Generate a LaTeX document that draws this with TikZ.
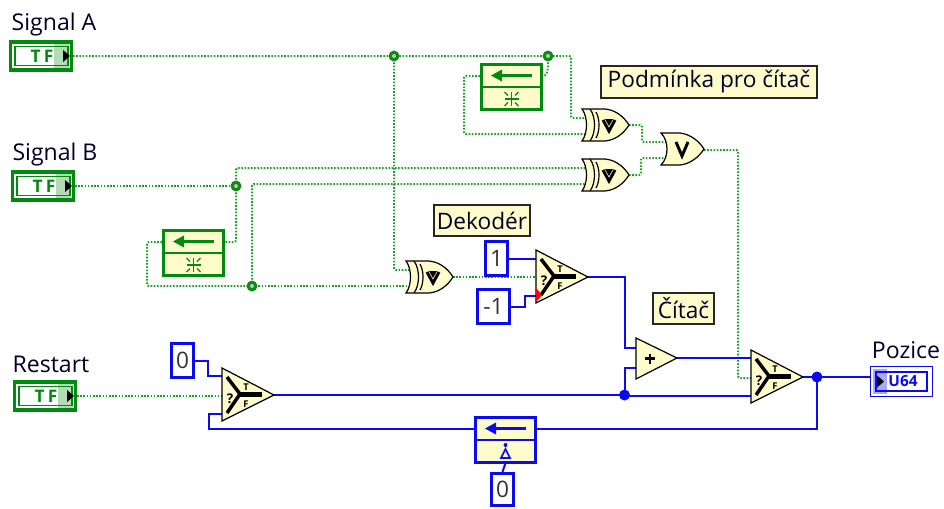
\documentclass[tikz,border=0pt]{standalone}
\usepackage{fontspec}
\setmainfont{Open Sans}
\pgfdeclarelayer{wires}
\pgfsetlayers{wires,main}
\definecolor{lvgreen}{HTML}{008A0E}
\definecolor{wiregreen}{HTML}{18A020}
\definecolor{lvblue}{HTML}{0A0AF5}
\definecolor{lvyellow}{HTML}{FFFBCB}
\tikzset{
 x=0.75pt,y=-0.75pt,
 bw/.style={draw=wiregreen,line width=1.5pt,dash pattern=on 1.2pt off 1.2pt,rounded corners=1.5pt},
 nw/.style={draw=lvblue,line width=1.5pt,line join=miter},
 gate/.style={draw=black,fill=lvyellow,line width=0.9pt,line join=miter},
 name label/.style={font=\fontsize{17.3}{20}\selectfont,text=black!85!blue,inner sep=0pt},
 comment/.style={draw=black!85,line width=1.3pt,fill=lvyellow,font=\fontsize{17}{20}\selectfont,text=black!85!blue,inner sep=0pt,minimum height=23.5pt},
 constant/.style={draw=lvblue,line width=2.3pt,fill=white,font=\fontsize{17}{20}\selectfont,text=black!80,inner sep=0pt,minimum width=#1,minimum height=25.5pt},
 constant/.default=16.5pt,
 bjunc/.pic={\fill[wiregreen!85!black] (0,0) circle[radius=5.5]; \fill[white!60!wiregreen] (0,0) circle[radius=2];},
 njunc/.pic={\fill[lvblue] (0,0) circle[radius=5.5];},
 xorgate/.pic={
  \draw[gate] (0,0) -- (23,0) .. controls (34,1) and (42,8) .. (47,16) .. controls (42,24) and (34,31) .. (23,32) -- (0,32) .. controls (6,24) and (6,8) .. (0,0) -- cycle;
  \draw[line width=0.9pt] (8,0) .. controls (14,8) and (14,24) .. (8,32);
  \draw[line width=0.9pt] (14,3) .. controls (18,10) and (18,22) .. (14,29);
  \draw[line width=2.2pt] (21,11) -- (27,22) -- (33,11);
  \fill (23,10) -- (31,10) -- (27,17) -- cycle;
  \coordinate (-a) at (6,9); \coordinate (-b) at (6,25); \coordinate (-o) at (47,16);
 },
 orgate/.pic={
  \draw[gate] (0,0) -- (19,0) .. controls (29,1) and (38,8) .. (43,16) .. controls (38,24) and (29,31) .. (19,32) -- (0,32) .. controls (8,24) and (8,8) .. (0,0) -- cycle;
  \draw[line width=2.2pt] (15,9) -- (21,23) -- (27,9);
  \coordinate (-a) at (5,9); \coordinate (-b) at (5,25); \coordinate (-o) at (43,17);
 },
 selgate/.pic={
  \draw[gate] (0,0) -- (52,27) -- (0,53) -- cycle;
  \draw[line width=2.6pt] (5,9) -- (18,26) -- (5,45);
  \draw[line width=3.2pt] (18,26.5) -- (40,26.5);
  \node[font=\bfseries\fontsize{10}{10}\selectfont,inner sep=0] at (8,31) {?};
  \node[font=\bfseries\fontsize{7}{7}\selectfont,inner sep=0] at (24,19) {T};
  \node[font=\bfseries\fontsize{7}{7}\selectfont,inner sep=0] at (24,36) {F};
  \coordinate (-t) at (1,8); \coordinate (-s) at (1,28); \coordinate (-f) at (1,46); \coordinate (-o) at (52,27);
 },
 addgate/.pic={
  \draw[gate] (0,0) -- (41,20) -- (0,41) -- cycle;
  \draw[line width=1.8pt] (9,20.5) -- (19,20.5) (14,15.5) -- (14,25.5);
  \coordinate (-a) at (1,10); \coordinate (-b) at (1,30); \coordinate (-o) at (41,20);
 },
 srfeedback/.pic={
  \draw[draw=#1,fill=lvyellow,line width=2.4pt] (1.5,1.5) rectangle (61.5,46.5);
  \draw[#1,line width=1.5pt] (1.5,24) -- (61.5,24);
  \draw[#1,line width=2.6pt] (17,12.5) -- (52,12.5);
  \fill[#1] (11,12.5) -- (22,6.5) -- (22,18.5) -- cycle;
  \coordinate (-l) at (0,13); \coordinate (-r) at (63,13); \coordinate (-bot) at (31.5,47);
 },
 starmark/.pic={
  \draw[lvgreen,line width=1pt] (-7,0) -- (7,0) (0,-7) -- (0,7);
  \draw[lvgreen,line width=0.9pt] (-7,-7) -- (-3.5,-3.5) (7,-7) -- (3.5,-3.5) (-7,7) -- (-3.5,3.5) (7,7) -- (3.5,3.5);
 },
 tfterm/.pic={
  \draw[lvgreen,line width=2.3pt,fill=white] (1.5,1.5) rectangle (62.5,29.5);
  \draw[lvgreen,line width=1.3pt] (6,6) rectangle (59,25);
  \node[lvgreen,font=\bfseries\fontsize{13}{13}\selectfont,inner sep=0] at (33,15.5) {T\hspace{2.5pt}F};
  \fill[lvgreen,opacity=.3] (45,3) rectangle (60,28);
  \fill[black] (54,9.5) -- (61,15.5) -- (54,21.5) -- cycle;
  \coordinate (-o) at (64,15.5);
 },
 u64term/.pic={
  \draw[lvblue,line width=1.2pt,fill=white] (0.5,0.5) rectangle (62.5,30.5);
  \draw[lvblue,line width=1.2pt] (6,6) rectangle (57,25);
  \node[lvblue,font=\bfseries\fontsize{11.5}{11}\selectfont,inner sep=0] at (33,15.5) {U64};
  \fill[lvblue,opacity=.35] (3,3) rectangle (17,28);
  \fill[black] (7,9.5) -- (14,15.5) -- (7,21.5) -- cycle;
  \coordinate (-i) at (0,11);
 },
}
\begin{document}
\begin{tikzpicture}
\useasboundingbox (0,0) rectangle (944,508);
\coordinate (jA1) at (394,56);
\coordinate (jA2) at (548,56);
\coordinate (jB1) at (236,186);
\coordinate (jB2) at (252,286);
\coordinate (jN1) at (624.5,395);
\coordinate (jN2) at (817,377);
\path (9,40.5) pic (tA) {tfterm};
\path (11,170.5) pic (tB) {tfterm};
\path (13,380.5) pic (tR) {tfterm};
\path (870,366) pic (tP) {u64term};
\path (582,109) pic (x1) {xorgate};
\path (582,159) pic (x2) {xorgate};
\path (406,261) pic (x3) {xorgate};
\path (661,133) pic (or1) {orgate};
\path (536,250) pic (s1) {selgate};
\path (222,368) pic (s2) {selgate};
\path (751,350) pic (s3) {selgate};
\path (636,338) pic (add) {addgate};
\path (480,63) pic (sr1) {srfeedback=lvgreen};
\path (162,229) pic (sr2) {srfeedback=lvgreen};
\path (474,416) pic (sr3) {srfeedback=lvblue};
\node[constant] (c1) at (496.5,258.5) {1};
\node[constant=24pt] (cm1) at (493.5,306.5) {-1};
\node[constant] (c0a) at (182.5,360.5) {0};
\node[constant,minimum height=24pt] (c0b) at (502.5,489.5) {0};
\begin{pgfonlayer}{wires}
\draw[bw] (tA-o) -- (jA1) -- (jA2) -- ++(23,0) |- (x1-a);
\draw[bw] (jA2) -- ++(0,12) -- ++(-2,8) -- (sr1-r);
\draw[bw] (sr1-l) -- ++(-16,0) |- (x1-b);
\draw[bw] (jA1) |- (x3-a);
\draw[bw] (tB-o) -- (jB1);
\draw[bw] (jB1) |- (x2-a);
\draw[bw] (jB1) |- (sr2-r);
\draw[bw] (sr2-l) -- ++(-15,0) |- (jB2);
\draw[bw] (jB2) -- (jB2 -| x3-b);
\draw[bw] (jB2) |- (x2-b);
\draw[bw] (x1-o) -- ++(13,0) |- (or1-a);
\draw[bw] (x2-o) -- ++(12,0) |- (or1-b);
\draw[bw] (or1-o) -- ++(34,0) |- (s3-s);
\draw[bw] (x3-o) -- (x3-o -| s1-s);
\draw[bw] (tR-o) -- (s2-s);
\draw[nw] (c1.east) -- (c1.east -| s1-t);
\draw[nw] (cm1.east) -- ++(14,0) |- (s1-f);
\draw[nw] (s1-o) -- ++(37,0) |- (add-a);
\draw[nw] (s2-o) -- (jN1);
\draw[nw] (jN1) |- (add-b);
\draw[nw] (jN1) |- (s3-f);
\draw[nw] (add-o) -- (add-o -| s3-t);
\draw[nw] (s3-o) -- (jN2) -- (jN2 -| tP-i);
\draw[nw] (jN2) |- (sr3-r);
\draw[nw] (sr3-l) -- ++(-265,0) |- (s2-f);
\draw[nw] (c0a.east) -- ++(13,0) |- (s2-t);
\draw[nw] (c0b.north) -- (sr3-bot);
\end{pgfonlayer}
\path (511.5,99) pic {starmark};
\path (193.5,265) pic {starmark};
\fill[lvblue] (505.5,445) circle[radius=2];
\draw[lvblue,line width=1.2pt,fill=lvyellow] (505.5,449) -- (510,458) -- (501,458) -- cycle;
\fill[red] (536,288) -- (542,295) -- (536,302) -- cycle;
\path (jA1) pic {bjunc}; \path (jA2) pic {bjunc}; \path (jB1) pic {bjunc}; \path (jB2) pic {bjunc};
\path (jN1) pic {njunc}; \path (jN2) pic {njunc};
\node[name label] (lA) at (54,25) {Signal A};
\node[name label] (lB) at (55,155) {Signal B};
\node[name label] (lR) at (51,364) {Restart};
\node[name label] (lP) at (906,350) {Pozice};
\node[comment,minimum width=162.5pt] (k1) at (709,82) {Podmínka pro čítač};
\node[comment,minimum width=72pt] (k2) at (482,220.5) {Dekodér};
\node[comment,minimum width=46pt] (k3) at (683.5,308.5) {Čítač};
\end{tikzpicture}
\end{document}
